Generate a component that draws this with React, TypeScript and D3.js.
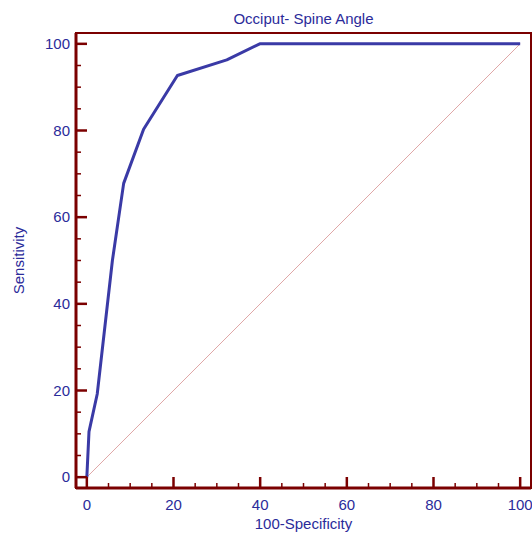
import { useRef, useEffect } from 'react';
import * as d3 from 'd3';

// ROC curve points
const specComplement = [0, 0.5, 2.4, 5.9, 8.5, 13.1, 20.9, 32.3, 39.9, 100];
const sensitivity = [0, 10.5, 19.2, 50.0, 67.8, 80.3, 92.7, 96.3, 100, 100];
const majorTicks = [0, 20, 40, 60, 80, 100];
const minorTicks = d3.range(0, 101, 5).filter((v) => v % 20 !== 0);

const title = 'Occiput- Spine Angle';
const xLabel = '100-Specificity';
const yLabel = 'Sensitivity';

const W = 532;
const H = 533;
const axisColor = '#7b0000';
const textColor = '#2b2b9a';
const lineColor = '#3a3aa6';
const diagColor = '#d48a8a';

export default function App() {
  const svgRef = useRef<SVGSVGElement>(null);

  useEffect(() => {
    const svg = d3.select(svgRef.current);
    svg.selectAll('*').remove();

    const left = 76, right = 531, top = 33, bottom = 488;
    const x = d3.scaleLinear().domain([-2.5, 102.5]).range([left, right]);
    const y = d3.scaleLinear().domain([-2.5, 102.5]).range([bottom, top]);

    // Diagonal reference line
    svg.append('line')
      .attr('x1', x(0)).attr('y1', y(0))
      .attr('x2', x(100)).attr('y2', y(100))
      .attr('stroke', diagColor)
      .attr('stroke-opacity', 0.75)
      .attr('stroke-width', 1);

    // ROC curve
    const pts = specComplement.map((v, i) => [v, sensitivity[i]] as [number, number]);
    const line = d3.line<[number, number]>()
      .x((d) => x(d[0]))
      .y((d) => y(d[1]));
    svg.append('path')
      .datum(pts)
      .attr('d', line)
      .attr('fill', 'none')
      .attr('stroke', lineColor)
      .attr('stroke-width', 3)
      .attr('stroke-linejoin', 'round');

    // Frame
    svg.append('rect')
      .attr('x', left).attr('y', top)
      .attr('width', right - left).attr('height', bottom - top)
      .attr('fill', 'none')
      .attr('stroke', axisColor)
      .attr('stroke-width', 2);
    svg.append('line')
      .attr('x1', left).attr('y1', top).attr('x2', left).attr('y2', bottom)
      .attr('stroke', axisColor).attr('stroke-width', 3);
    svg.append('line')
      .attr('x1', left).attr('y1', bottom).attr('x2', right).attr('y2', bottom)
      .attr('stroke', axisColor).attr('stroke-width', 3);

    // Y ticks
    svg.append('g').selectAll('line.ymaj')
      .data(majorTicks).join('line')
      .attr('x1', left).attr('x2', left + 11)
      .attr('y1', (d) => y(d)).attr('y2', (d) => y(d))
      .attr('stroke', axisColor).attr('stroke-width', 2.5);
    svg.append('g').selectAll('line.ymin')
      .data(minorTicks).join('line')
      .attr('x1', left).attr('x2', left + 5)
      .attr('y1', (d) => y(d)).attr('y2', (d) => y(d))
      .attr('stroke', axisColor).attr('stroke-width', 1.5);

    // X ticks
    svg.append('g').selectAll('line.xmaj')
      .data(majorTicks).join('line')
      .attr('y1', bottom).attr('y2', bottom - 11)
      .attr('x1', (d) => x(d)).attr('x2', (d) => x(d))
      .attr('stroke', axisColor).attr('stroke-width', 2.5);
    svg.append('g').selectAll('line.xmin')
      .data(minorTicks).join('line')
      .attr('y1', bottom).attr('y2', bottom - 5)
      .attr('x1', (d) => x(d)).attr('x2', (d) => x(d))
      .attr('stroke', axisColor).attr('stroke-width', 1.5);

    const font = 'Arial, "Liberation Sans", sans-serif';

    // Tick labels
    svg.append('g').selectAll('text')
      .data(majorTicks).join('text')
      .attr('x', left - 6).attr('y', (d) => y(d))
      .attr('dy', '0.35em')
      .attr('text-anchor', 'end')
      .attr('font-family', font).attr('font-size', 15)
      .attr('fill', textColor)
      .text((d) => d);
    svg.append('g').selectAll('text')
      .data(majorTicks).join('text')
      .attr('x', (d) => x(d)).attr('y', bottom + 17)
      .attr('dy', '0.35em')
      .attr('text-anchor', 'middle')
      .attr('font-family', font).attr('font-size', 15)
      .attr('fill', textColor)
      .text((d) => d);

    // Titles
    svg.append('text')
      .attr('x', (left + right) / 2).attr('y', 24)
      .attr('text-anchor', 'middle')
      .attr('font-family', font).attr('font-size', 15)
      .attr('fill', textColor)
      .text(title);
    svg.append('text')
      .attr('x', (left + right) / 2).attr('y', 529)
      .attr('text-anchor', 'middle')
      .attr('font-family', font).attr('font-size', 15)
      .attr('fill', textColor)
      .text(xLabel);
    svg.append('text')
      .attr('transform', 'translate(24,' + (top + bottom) / 2 + ') rotate(-90)')
      .attr('text-anchor', 'middle')
      .attr('font-family', font).attr('font-size', 15)
      .attr('fill', textColor)
      .text(yLabel);
  }, []);

  return (
    <svg
      ref={svgRef}
      width={W}
      height={H}
      style={{ position: 'absolute', left: 0, top: 0, background: '#fff' }}
    />
  );
}
